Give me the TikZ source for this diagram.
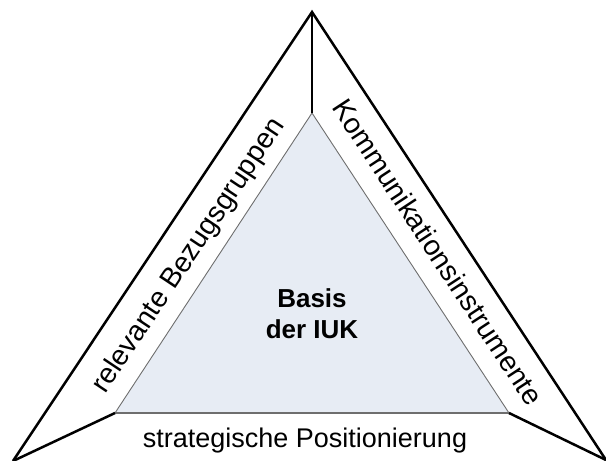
\documentclass[tikz,border=0pt]{standalone}
\usepackage{fontspec}
\setmainfont{Liberation Sans}
\usepackage{tikz}
\usetikzlibrary{positioning,calc}
\usepackage{xcolor}
\definecolor{basisfill}{RGB}{231,236,244}
\definecolor{basisline}{RGB}{110,110,110}

\begin{document}
\begin{tikzpicture}[x=1pt,y=-1pt]
\useasboundingbox (0,0) rectangle (606,461);

\tikzstyle{edge}=[line width=2.5pt, black, line join=miter];
\tikzstyle{inner}=[fill=basisfill, draw=basisline, line width=0.9pt];
\tikzstyle{label}=[inner sep=0pt, align=center, font=\fontsize{27}{31}\selectfont];
\tikzstyle{sidelabel}=[label, font=\fontsize{28.4}{31}\selectfont];

% corners
\coordinate (otop) at (312,12);
\coordinate (oleft) at (13,461);
\coordinate (oright) at (606,460);
\coordinate (itop) at (312,113);
\coordinate (ileft) at (115,413);
\coordinate (iright) at (509,413);

\draw[inner] (itop) -- (ileft) -- (iright) -- cycle;
\draw[basisline, line width=1.6pt] (ileft) -- (iright);

\draw[edge] (oleft) -- (otop) -- (oright);
\draw[edge] (otop) -- (itop);
\draw[edge] (oleft) -- (ileft);
\draw[edge] (oright) -- (iright);

\node[label, font=\fontsize{26}{31}\selectfont\bfseries] (basis) at (312,314) {Basis\\der IUK};
\node[sidelabel] (bezug) at (189,256) [rotate=56.3] {relevante Bezugsgruppen};
\node[sidelabel] (komm) at (438,252) [rotate=-56.7] {Kommunikationsinstrumente};
\node[label] (strat) at (305,441) {strategische Positionierung};

\end{tikzpicture}
\end{document}
